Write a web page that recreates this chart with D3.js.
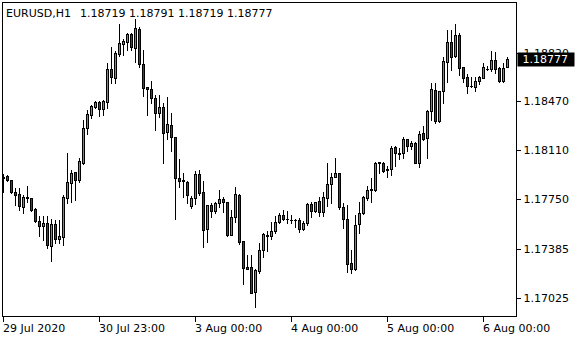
<!DOCTYPE html>
<html><head><meta charset="utf-8">
<script src="https://cdn.jsdelivr.net/npm/d3@7"></script>
<style>
body{margin:0;background:#fff;}
svg{display:block;}
text{font-family:"DejaVu Sans",sans-serif;font-size:11px;fill:#000;}
</style>
</head><body>
<svg id="chart" width="580" height="340"></svg>
<script>
const symbol = "EURUSD,H1";
const opens = [1.17912,1.17917,1.17887,1.17799,1.17787,1.17693,1.17765,1.17755,1.17674,1.17588,
1.17554,1.17572,1.17407,1.17565,1.17458,1.17473,1.17760,1.17865,1.17946,1.17891,
1.18018,1.18269,1.18371,1.18428,1.18460,1.18408,1.18466,1.18709,1.18641,1.18815,
1.18892,1.18901,1.18962,1.18863,1.18999,1.18742,1.18571,1.18556,1.18490,1.18384,
1.18424,1.18240,1.18294,1.18203,1.17904,1.17888,1.17873,1.17701,1.17755,1.17931,
1.17799,1.17527,1.17706,1.17664,1.17718,1.17748,1.17728,1.17488,1.17615,1.17779,
1.17441,1.17253,1.17250,1.17069,1.17223,1.17375,1.17482,1.17480,1.17517,1.17581,
1.17630,1.17607,1.17598,1.17596,1.17596,1.17527,1.17571,1.17713,1.17664,1.17735,
1.17657,1.17755,1.17858,1.17914,1.17939,1.17693,1.17601,1.17278,1.17233,1.17564,
1.17645,1.17760,1.17818,1.17816,1.18018,1.18017,1.17967,1.17968,1.18130,1.18084,
1.18086,1.18191,1.18142,1.18159,1.18017,1.18233,1.18196,1.18397,1.18551,1.18325,
1.18544,1.18759,1.18901,1.18803,1.18955,1.18718,1.18644,1.18584,1.18575,1.18619,
1.18641,1.18707,1.18707,1.18769,1.18710,1.18619,1.18719];
const highs = [1.17937,1.17923,1.17890,1.17833,1.17831,1.17783,1.17846,1.17760,1.17684,1.17623,
1.17629,1.17629,1.17607,1.17597,1.17596,1.17779,1.18090,1.17963,1.17951,1.18051,
1.18328,1.18404,1.18441,1.18470,1.18470,1.18481,1.18746,1.18869,1.18837,1.19034,
1.18926,1.18967,1.18967,1.19072,1.19016,1.18845,1.18573,1.18617,1.18514,1.18514,
1.18453,1.18502,1.18380,1.18206,1.18044,1.17939,1.17882,1.17774,1.17956,1.17963,
1.17884,1.17706,1.17723,1.17730,1.17816,1.17767,1.17728,1.17669,1.17840,1.17787,
1.17441,1.17338,1.17338,1.17233,1.17424,1.17502,1.17517,1.17583,1.17625,1.17649,
1.17669,1.17664,1.17632,1.17601,1.17608,1.17590,1.17718,1.17730,1.17730,1.17762,
1.17804,1.18017,1.17943,1.18049,1.17939,1.17718,1.17706,1.17375,1.17632,1.17726,
1.17772,1.17846,1.17902,1.18024,1.18024,1.18024,1.17992,1.18139,1.18139,1.18122,
1.18206,1.18193,1.18178,1.18169,1.18250,1.18286,1.18404,1.18604,1.18600,1.18545,
1.18795,1.18992,1.18992,1.19036,1.18967,1.18722,1.18666,1.18649,1.18649,1.18654,
1.18747,1.18727,1.18840,1.18828,1.18722,1.18751,1.18791];
const lows = [1.17804,1.17882,1.17794,1.17706,1.17673,1.17649,1.17728,1.17662,1.17581,1.17478,
1.17452,1.17390,1.17294,1.17429,1.17427,1.17412,1.17723,1.17730,1.17740,1.17877,
1.18007,1.18228,1.18349,1.18416,1.18360,1.18371,1.18416,1.18600,1.18600,1.18801,
1.18808,1.18845,1.18845,1.18759,1.18722,1.18509,1.18367,1.18453,1.18257,1.18355,
1.18012,1.18191,1.18103,1.17603,1.17840,1.17767,1.17718,1.17682,1.17711,1.17779,
1.17400,1.17436,1.17620,1.17649,1.17693,1.17657,1.17478,1.17488,1.17583,1.17419,
1.17125,1.17238,1.17057,1.16954,1.17208,1.17326,1.17370,1.17456,1.17498,1.17571,
1.17596,1.17576,1.17571,1.17542,1.17510,1.17522,1.17559,1.17620,1.17657,1.17625,
1.17625,1.17699,1.17718,1.17909,1.17674,1.17535,1.17216,1.17204,1.17228,1.17498,
1.17640,1.17743,1.17730,1.17809,1.17939,1.17951,1.17914,1.17926,1.17995,1.18042,
1.18051,1.18105,1.18120,1.18015,1.17983,1.18183,1.18053,1.18330,1.18306,1.18318,
1.18458,1.18612,1.18698,1.18795,1.18661,1.18612,1.18531,1.18571,1.18543,1.18593,
1.18637,1.18698,1.18693,1.18674,1.18612,1.18612,1.18719];
const closes = [1.17904,1.17887,1.17799,1.17783,1.17699,1.17762,1.17754,1.17669,1.17592,1.17554,
1.17574,1.17413,1.17568,1.17460,1.17478,1.17766,1.17875,1.17939,1.17892,1.18028,
1.18269,1.18372,1.18431,1.18460,1.18413,1.18469,1.18705,1.18649,1.18820,1.18894,
1.18911,1.18961,1.18869,1.19004,1.18742,1.18563,1.18556,1.18490,1.18384,1.18424,
1.18233,1.18299,1.18208,1.17902,1.17884,1.17879,1.17779,1.17757,1.17931,1.17798,
1.17526,1.17706,1.17664,1.17718,1.17748,1.17730,1.17485,1.17615,1.17784,1.17436,
1.17241,1.17239,1.17061,1.17228,1.17375,1.17491,1.17485,1.17515,1.17581,1.17632,
1.17605,1.17603,1.17594,1.17593,1.17527,1.17574,1.17713,1.17664,1.17726,1.17657,
1.17762,1.17858,1.17909,1.17939,1.17689,1.17601,1.17270,1.17233,1.17557,1.17645,
1.17767,1.17816,1.17821,1.18017,1.18020,1.17958,1.17969,1.18122,1.18086,1.18087,
1.18189,1.18142,1.18159,1.18017,1.18225,1.18189,1.18397,1.18556,1.18325,1.18544,
1.18764,1.18901,1.18795,1.18955,1.18715,1.18641,1.18582,1.18582,1.18619,1.18649,
1.18718,1.18709,1.18769,1.18707,1.18619,1.18710,1.18777];
const xTickIndex = [0,24,48,72,96,120];
const xTickLabels = ["29 Jul 2020","30 Jul 23:00","3 Aug 00:00","4 Aug 00:00","5 Aug 00:00","6 Aug 00:00"];
const yTicks = [1.18820,1.18470,1.18110,1.17750,1.17385,1.17025];

const svg = d3.select("#chart");
const L = 2.5, T = 2.5, R = 516.5, B = 316.5;
const n = opens.length;
const x = d3.scaleLinear().domain([0, n - 1]).range([3, 3 + 4 * (n - 1)]);
const y = d3.scaleLinear().domain([1.16887, 1.19194]).range([B, T]);

svg.append("defs").append("clipPath").attr("id","plot")
  .append("rect").attr("x", L + 0.5).attr("y", T + 0.5).attr("width", R - L - 1).attr("height", B - T - 1);

const g = svg.append("g").attr("clip-path","url(#plot)");
const data = d3.range(n).map(i => ({i, o: opens[i], h: highs[i], l: lows[i], c: closes[i]}));

const cg = g.selectAll("g.c").data(data).join("g").attr("class","c");
cg.append("rect")
  .attr("x", d => Math.round(x(d.i)))
  .attr("width", 1)
  .attr("y", d => Math.round(y(d.h)))
  .attr("height", d => Math.round(y(d.l)) - Math.round(y(d.h)) + 1)
  .attr("fill", "#000");
cg.append("rect")
  .attr("x", d => Math.round(x(d.i)) - 1)
  .attr("width", 3)
  .attr("y", d => Math.round(y(Math.max(d.o, d.c))))
  .attr("height", d => Math.round(y(Math.min(d.o, d.c))) - Math.round(y(Math.max(d.o, d.c))) + 1)
  .attr("fill", "#000");
cg.filter(d => Math.round(y(Math.min(d.o, d.c))) - Math.round(y(Math.max(d.o, d.c))) >= 2)
  .append("rect")
  .attr("x", d => Math.round(x(d.i)))
  .attr("width", 1)
  .attr("y", d => Math.round(y(Math.max(d.o, d.c))) + 1)
  .attr("height", d => Math.round(y(Math.min(d.o, d.c))) - Math.round(y(Math.max(d.o, d.c))) - 1)
  .attr("fill", d => d.c >= d.o ? "#00e000" : "#e00000");

// frame
svg.append("rect").attr("x", L).attr("y", T).attr("width", R - L).attr("height", B - T)
  .attr("fill","none").attr("stroke","#000").attr("stroke-width",1).attr("shape-rendering","crispEdges");

// y axis
const yAxis = d3.axisRight(y).tickValues(yTicks).tickSize(4).tickPadding(3).tickFormat(d3.format(".5f"));
const ya = svg.append("g").attr("transform", `translate(${R},0)`).call(yAxis);
ya.select(".domain").remove();
ya.selectAll("line").attr("stroke","#000").attr("shape-rendering","crispEdges");
ya.selectAll("text").attr("font-family", null).attr("font-size", null);

// x axis
const xAxis = d3.axisBottom(x).tickValues(xTickIndex).tickSize(5).tickPadding(3)
  .tickFormat((d, i) => xTickLabels[i]);
const xa = svg.append("g").attr("transform", `translate(0,${B})`).call(xAxis);
xa.select(".domain").remove();
xa.selectAll("line").attr("stroke","#000").attr("shape-rendering","crispEdges");
xa.selectAll("text").attr("text-anchor","start").attr("x", -0.5).attr("font-family", null).attr("font-size", null);

// current price label
const last = closes[n - 1];
const yc = Math.round(y(last));
svg.append("rect").attr("x", R + 1).attr("y", yc - 6.5).attr("width", 57).attr("height", 14).attr("fill","#000");
svg.append("text").attr("x", R + 6).attr("y", yc).attr("dy","0.36em").style("fill","#fff")
  .text(d3.format(".5f")(last));

// header
svg.append("text").attr("x", 6).attr("y", 17).text(symbol);
svg.append("text").attr("x", 80).attr("y", 17)
  .text([opens[n-1], highs[n-1], lows[n-1], closes[n-1]].map(d3.format(".5f")).join(" "));
</script>
</body></html>
